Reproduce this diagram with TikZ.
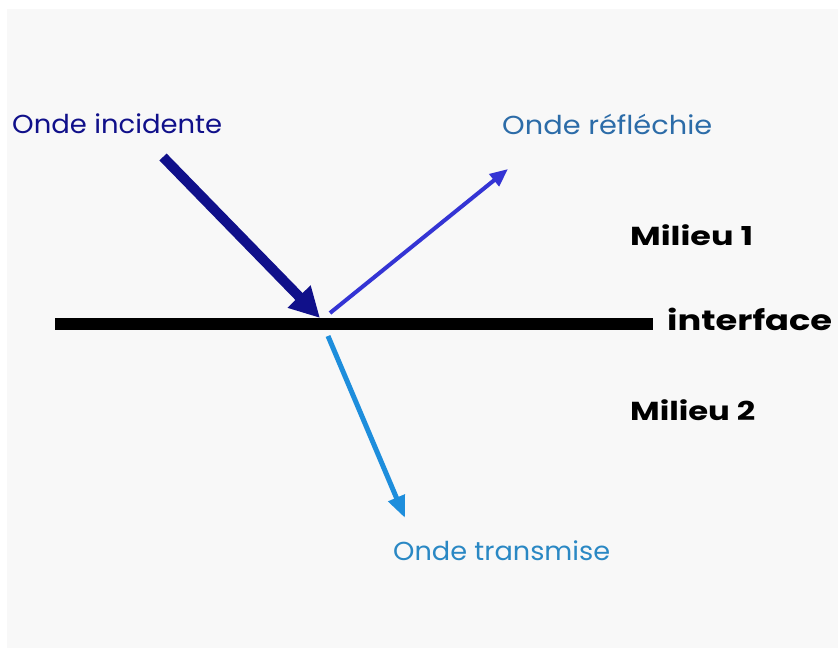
\documentclass[tikz,border=0pt]{standalone}
\usepackage{fontspec}
\usepackage{graphicx}
\setmainfont{Poppins}
\usetikzlibrary{arrows.meta}
\definecolor{panel}{HTML}{F8F8F8}
\definecolor{incol}{HTML}{10108A}
\definecolor{refcol}{HTML}{3434D4}
\definecolor{trcol}{HTML}{1E8EDC}
\definecolor{reftxt}{HTML}{2C6CA8}
\definecolor{trtxt}{HTML}{2A88C4}
\newlength\fitlen
\newcommand\fitto[2]{\settowidth\fitlen{#2}\pgfmathsetmacro\fitsx{#1/\fitlen}\scalebox{\fitsx}[1]{#2}}
\tikzset{
  lbl/.style={inner sep=0pt, anchor=base west, font=\fontsize{26}{30}\selectfont},
  mil/.style={lbl, font=\fontsize{26}{30}\selectfont\bfseries, text=black},
}
\begin{document}
\begin{tikzpicture}[x=1pt,y=-1pt]
\useasboundingbox (0,0) rectangle (838,648);
\fill[white] (0,0) rectangle (838,648);
\fill[panel] (7,9) rectangle (838,648);
% interface
\coordinate (L) at (55,324);
\coordinate (R) at (653,324);
\draw[line width=12pt] (L) -- (R);
% points
\coordinate (ia) at (163,157);
\coordinate (ib) at (320,318);
\coordinate (ra) at (330,313);
\coordinate (rb) at (508,169);
\coordinate (ta) at (328,336);
\coordinate (tb) at (405,518);
\draw[incol, line width=10pt, -{Triangle[length=30pt,width=30pt]}] (ia) -- (ib);
\draw[refcol, line width=4pt, -{Triangle[length=18pt,width=15pt]}] (ra) -- (rb);
\draw[trcol, line width=5pt, -{Triangle[length=22pt,width=17pt]}] (ta) -- (tb);
% labels
\node[lbl, text=incol] (inc) at (12,133) {\fitto{210pt}{Onde incidente}};
\node[lbl, text=reftxt] (ref) at (502,134) {\fitto{210pt}{Onde réfléchie}};
\node[mil] (m1) at (630,245) {\fitto{123pt}{Milieu 1}};
\node[mil, font=\fontsize{28}{32}\selectfont\bfseries] (int) at (667,330) {\fitto{165pt}{interface}};
\node[mil] (m2) at (630,420) {\fitto{125pt}{Milieu 2}};
\node[lbl, text=trtxt] (tr) at (393,560) {\fitto{217pt}{Onde transmise}};
\end{tikzpicture}
\end{document}
